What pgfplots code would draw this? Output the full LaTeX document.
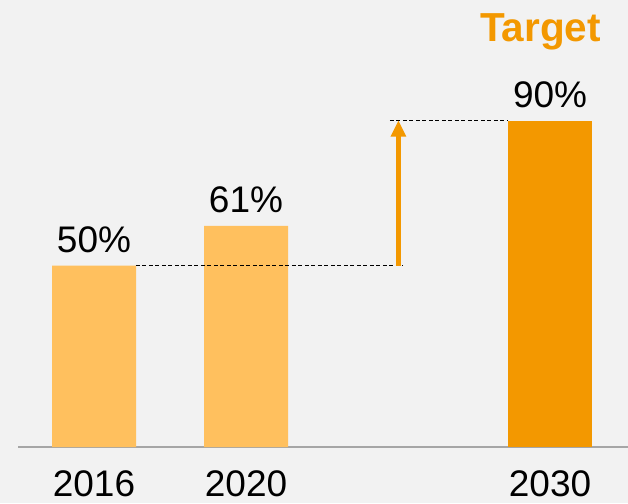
\documentclass[border=0pt]{standalone}
\usepackage{pgfplots}
\pgfplotsset{compat=1.18}
\usepackage{fontspec}
\setmainfont{Liberation Sans}
\definecolor{bg}{HTML}{F2F2F2}
\definecolor{lightor}{HTML}{FFC05E}
\definecolor{darkor}{HTML}{F39800}
\definecolor{axgray}{HTML}{A6A6A6}
\begin{document}
\begin{tikzpicture}
\fill[bg] (0,0) rectangle (628pt,503pt);
\begin{axis}[
  at={(18pt,56pt)}, anchor=south west,
  scale only axis, width=610pt, height=447pt,
  xmin=-0.5, xmax=3.513, ymin=0, ymax=123.3,
  axis x line*=bottom, axis y line=none,
  axis line style={axgray, line width=1.5pt, -},
  xtick={0,1,3}, xticklabels={2016,2020,2030},
  major tick length=0pt, ytick=\empty,
  xticklabel style={font=\fontsize{37}{44}\selectfont, inner sep=0pt, anchor=north, yshift=-23pt},
  ybar, bar width=84pt,
  /pgf/number format/assume math mode=true,
  nodes near coords={\pgfmathprintnumber\pgfplotspointmeta\%},
  every node near coord/.append style={font=\fontsize{37}{44}\selectfont, inner sep=0pt, anchor=south, yshift=13pt, black},
  clip=false,
]
\addplot[fill=lightor, draw=none, bar shift=0pt] coordinates {(0,50) (1,61)};
\addplot[fill=darkor, draw=none, bar shift=0pt] coordinates {(3,90)};
\draw[black, line width=1pt, dash pattern=on 4pt off 2.5pt] (axis cs:0.276,50) -- (axis cs:2.033,50);
\draw[black, line width=1pt, dash pattern=on 4pt off 2.5pt] (axis cs:1.947,90) -- (axis cs:2.724,90);
\draw[darkor, line width=4.8pt] (axis cs:2.003,50) -- ([yshift=-12pt]axis cs:2.003,90);
\fill[darkor] (axis cs:2.003,90) -- ([xshift=-8pt,yshift=-16pt]axis cs:2.003,90) -- ([xshift=8pt,yshift=-16pt]axis cs:2.003,90) -- cycle;
\end{axis}
\node[anchor=base east, inner sep=0pt, text=darkor, font=\fontsize{40.5}{48}\selectfont\bfseries] at (601pt,461.3pt) {Target};
\pgfresetboundingbox
\useasboundingbox (0,0) rectangle (628pt,503pt);
\end{tikzpicture}
\end{document}
